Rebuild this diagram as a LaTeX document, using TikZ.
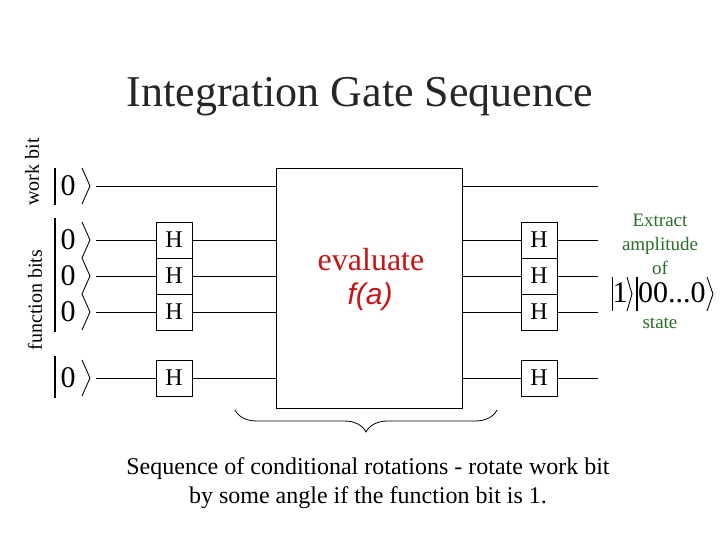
\documentclass[tikz,border=0pt]{standalone}
\usepackage{fontspec}
\setmainfont{Liberation Serif}
\setsansfont{Liberation Sans}
\usetikzlibrary{decorations.pathreplacing}
\definecolor{dgreen}{RGB}{40,110,40}
\definecolor{evred}{RGB}{200,20,20}
\begin{document}
\begin{tikzpicture}[x=1pt,y=-1pt,
  gate/.style={draw,fill=white,minimum width=36pt,minimum height=36pt,inner sep=0pt,font=\fontsize{24}{24}\selectfont},
  wire/.style={line width=0.8pt},
  ketl/.style={line width=1.6pt},
  keta/.style={line width=0.9pt},
  zero/.style={font=\fontsize{30}{30}\selectfont,inner sep=0pt}]
\useasboundingbox (0,0) rectangle (720,540);
\node[font=\fontsize{44}{44}\selectfont,text=black!85] (title) at (360,97) {Integration Gate Sequence};
% wires
\foreach \n/\y in {w/186,a/240,b/276,c/312,d/378}{
  \coordinate (\n s) at (96,\y); \coordinate (\n e) at (598,\y);
  \draw[wire] (\n s) -- (\n e);
}
\node[draw,fill=white,line width=0.8pt,minimum width=186pt,minimum height=240pt,inner sep=0pt] (ev) at (369,288) {};
\node[text=evred,font=\fontsize{32}{32}\selectfont] (evt) at (371,260) {evaluate};
\node[text=evred,font=\sffamily\itshape\fontsize{30}{30}\selectfont] (fa) at (370,297) {f(a)};
\foreach \n/\y in {1/240,2/276,3/312,4/378}{
  \node[gate] (L\n) at (174,\y) {H};
  \node[gate] (R\n) at (539,\y) {H};
}
% kets
\draw[ketl] (55,168) -- (55,205);
\draw[ketl] (55,218) -- (55,332);
\draw[ketl] (55,356) -- (55,398);
\foreach \y in {186,240,276,312,378}{
  \node[zero] at (68,\y) {0};
  \draw[keta] (82,\y-18) -- (90,\y) -- (82,\y+18);
}
\node[rotate=90,font=\fontsize{20}{20}\selectfont] (wb) at (32,172) {work bit};
\node[rotate=90,font=\fontsize{20}{20}\selectfont] (fb) at (35,300) {function bits};
% right ket
\draw[line width=0.9pt] (612,277) -- (612,311);
\node[font=\fontsize{30}{30}\selectfont,inner sep=0pt] at (620,293) {1};
\draw[line width=0.9pt] (627,277) -- (632,294) -- (627,311);
\draw[line width=1.4pt] (637,277) -- (637,311);
\node[font=\fontsize{30}{30}\selectfont,inner sep=0pt,anchor=west] at (638,293) {00...0};
\draw[line width=0.9pt] (707,277) -- (713,294) -- (707,311);
\node[text=dgreen,font=\fontsize{19}{24}\selectfont,align=center] (ex) at (660,244) {Extract\\amplitude\\of};
\node[text=dgreen,font=\fontsize{19}{19}\selectfont] (st) at (660,323) {state};
% brace
\coordinate (b1) at (235,410); \coordinate (b2) at (497,410);
\draw[line width=0.8pt,decorate,decoration={brace,mirror,amplitude=22pt,aspect=0.5}] (b1) -- (b2);
\node[font=\fontsize{24}{29}\selectfont,align=center] (cap) at (368,483) {Sequence of conditional rotations - rotate work bit\\by some angle if the function bit is 1.};
\end{tikzpicture}
\end{document}
